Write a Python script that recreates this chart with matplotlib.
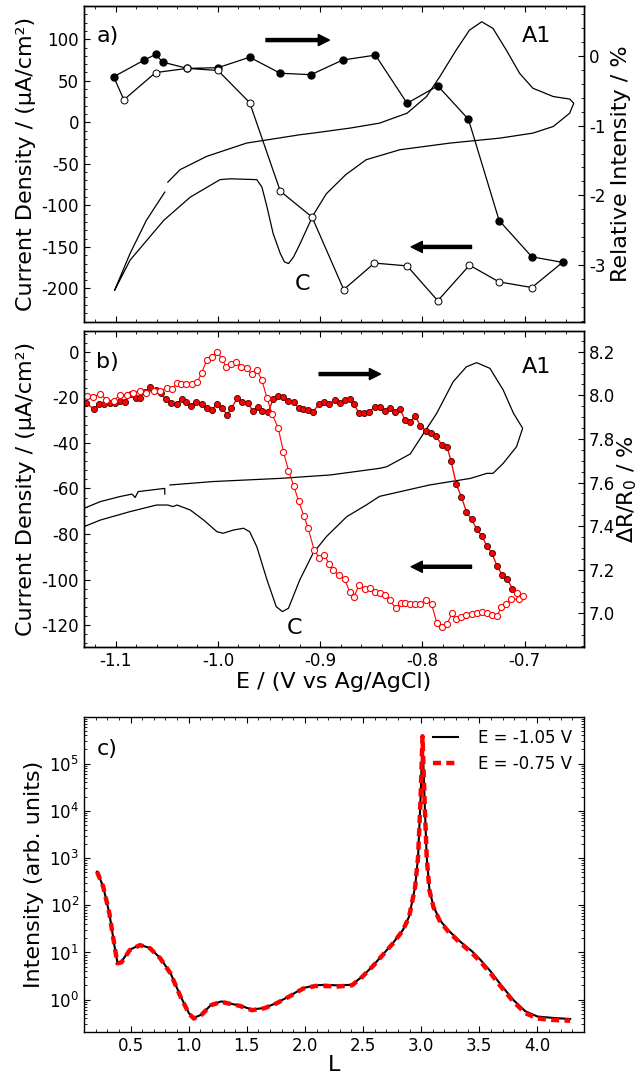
import numpy as np
import matplotlib
matplotlib.use("Agg")
from matplotlib import pyplot as plt
from matplotlib.ticker import MultipleLocator, LogLocator, NullFormatter, FormatStrFormatter

# ---- panel a : CV (left axis) ----
cv_a_E = [-1.101, -1.086, -1.070, -1.052, np.nan, -1.049, -1.037, -1.011, -0.972, -0.920,
          -0.907, -0.871, -0.842, -0.815, -0.796, -0.783, -0.767, -0.754, -0.742, -0.731,
          -0.718, -0.705, -0.692, -0.672, -0.656, -0.652, -0.656, -0.672, -0.692, -0.724,
          -0.773, -0.822, -0.855, -0.875, -0.894, -0.907, -0.920, -0.926, -0.931, -0.935,
          -0.939, -0.946, -0.952, -0.957, -0.962, -0.988, -0.998, -1.027, -1.053, -1.086,
          -1.101]
cv_a_J = [-202, -158, -118, -84, np.nan, -72, -57, -41, -25, -15,
          -13, -7, -1, 11, 31, 55, 87, 111, 121, 113,
          87, 59, 41, 31, 28, 23, 11, -5, -13, -19,
          -25, -33, -45, -63, -86, -112, -147, -162, -170, -168,
          -158, -134, -102, -78, -69, -68, -69, -90, -118, -166,
          -202]

# panel a : relative intensity (right axis)
fwd_a_E = [-1.102, -1.072, -1.061, -1.054, -1.030, -1.000, -0.969, -0.939, -0.909,
           -0.878, -0.846, -0.815, -0.785, -0.755, -0.725, -0.693, -0.663]
fwd_a_I = [-0.30, -0.06, 0.02, -0.09, -0.18, -0.17, -0.02, -0.25, -0.27,
           -0.06, 0.01, -0.68, -0.43, -0.91, -2.36, -2.88, -2.96]
ret_a_E = [-0.693, -0.725, -0.754, -0.785, -0.815, -0.847, -0.877, -0.908, -0.939,
           -0.969, -1.000, -1.030, -1.061, -1.092]
ret_a_I = [-3.32, -3.24, -3.00, -3.51, -3.01, -2.97, -3.35, -2.31, -1.94,
           -0.67, -0.21, -0.18, -0.24, -0.63]

# ---- panel b : CV (left axis) ----
cv_b_E = [-1.135, -1.115, -1.096, -1.084, -1.081, -1.078, -1.052, -1.052, np.nan, -1.047,
          -1.005, -0.939, -0.890, -0.842, -0.835, -0.812, -0.801, -0.786, -0.770, -0.757,
          -0.747, -0.734, -0.721, -0.711, -0.702, -0.708, -0.721, -0.731, -0.737, -0.753,
          -0.793, -0.842, -0.855, -0.874, -0.894, -0.907, -0.920, -0.931, -0.937, -0.943,
          -0.952, -0.962, -0.969, -0.975, -0.985, -0.995, -1.001, -1.014, -1.027, -1.040,
          -1.044, -1.049, -1.060, -1.086, -1.115, -1.135]
cv_b_J = [-69.5, -65.8, -63.6, -62.5, -64.0, -61.4, -60.0, -62.5, np.nan, -58.5,
          -57.0, -55.6, -54.1, -51.2, -50.5, -44.9, -37.3, -27.0, -13.2, -6.6,
          -4.8, -7.3, -16.8, -27.0, -33.6, -41.7, -49.0, -53.4, -53.4, -55.6,
          -58.5, -63.5, -67.3, -72.4, -81.2, -88.5, -100.2, -112.6, -114.1, -111.9,
          -100.2, -85.6, -79.0, -77.5, -78.3, -79.7, -79.0, -73.9, -69.5, -67.3,
          -68.0, -67.3, -67.3, -70.2, -73.9, -77.5]

# panel b : dR/R0 (right axis), forward scan (filled)
fwd_b_E = [-1.129, -1.121, -1.116, -1.111, -1.106, -1.101, -1.096, -1.091, -1.085, -1.080,
           -1.076, -1.071, -1.066, -1.061, -1.056, -1.051, -1.046, -1.040, -1.035, -1.031,
           -1.026, -1.021, -1.016, -1.011, -1.006, -1.001, -0.996, -0.991, -0.987, -0.981,
           -0.976, -0.971, -0.966, -0.961, -0.957, -0.951, -0.946, -0.941, -0.936, -0.931,
           -0.926, -0.921, -0.917, -0.912, -0.907, -0.901, -0.896, -0.891, -0.886, -0.881,
           -0.876, -0.871, -0.867, -0.862, -0.857, -0.852, -0.846, -0.842, -0.837, -0.832,
           -0.827, -0.822, -0.817, -0.812, -0.807, -0.802, -0.797, -0.792, -0.787, -0.781,
           -0.776, -0.772, -0.767, -0.762, -0.757, -0.752, -0.747, -0.742, -0.737, -0.732,
           -0.727, -0.722, -0.717, -0.712]
fwd_b_R = [7.963, 7.937, 7.959, 7.960, 7.967, 7.963, 7.974, 7.968, 8.006, 7.986,
           7.989, 8.017, 8.037, 8.025, 8.009, 7.982, 7.963, 7.960, 7.982, 7.968,
           7.953, 7.970, 7.959, 7.941, 7.933, 7.960, 7.944, 7.910, 7.941, 7.986,
           7.968, 7.967, 7.928, 7.945, 7.928, 7.922, 7.982, 7.997, 7.994, 7.974,
           7.971, 7.941, 7.936, 7.933, 7.925, 7.960, 7.971, 7.960, 7.979, 7.963,
           7.979, 7.983, 7.959, 7.918, 7.921, 7.925, 7.948, 7.948, 7.930, 7.941,
           7.925, 7.937, 7.887, 7.879, 7.905, 7.860, 7.838, 7.826, 7.813, 7.772,
           7.764, 7.699, 7.593, 7.535, 7.466, 7.431, 7.387, 7.355, 7.310, 7.275,
           7.217, 7.177, 7.156, 7.113]

# panel b : dR/R0, return scan (open)
ret_b_E = [-1.128, -1.122, -1.115, -1.109, -1.102, -1.096, -1.089, -1.083, -1.076, -1.070,
           -1.063, -1.057, -1.050, -1.045, -1.040, -1.036, -1.031, -1.025, -1.020, -1.016,
           -1.011, -1.006, -1.001, -0.996, -0.992, -0.987, -0.982, -0.977, -0.972, -0.967,
           -0.962, -0.957, -0.952, -0.947, -0.941, -0.936, -0.931, -0.926, -0.921, -0.916,
           -0.912, -0.906, -0.901, -0.896, -0.891, -0.887, -0.882, -0.876, -0.871, -0.867,
           -0.862, -0.856, -0.851, -0.846, -0.842, -0.837, -0.832, -0.826, -0.821, -0.817,
           -0.812, -0.807, -0.802, -0.797, -0.791, -0.786, -0.781, -0.776, -0.771, -0.767,
           -0.762, -0.757, -0.752, -0.747, -0.742, -0.737, -0.732, -0.727, -0.723, -0.718,
           -0.713, -0.706, -0.702, -0.708]
ret_b_R = [7.997, 7.994, 8.006, 7.979, 7.975, 8.002, 8.000, 8.012, 8.021, 8.012,
           8.020, 8.021, 8.032, 8.029, 8.055, 8.050, 8.050, 8.050, 8.063, 8.101,
           8.162, 8.177, 8.197, 8.167, 8.131, 8.142, 8.154, 8.131, 8.124, 8.096,
           8.116, 8.070, 7.986, 7.913, 7.849, 7.742, 7.655, 7.586, 7.514, 7.447,
           7.393, 7.292, 7.255, 7.268, 7.225, 7.199, 7.175, 7.157, 7.096, 7.075,
           7.130, 7.110, 7.118, 7.099, 7.092, 7.084, 7.061, 7.023, 7.046, 7.049,
           7.043, 7.043, 7.043, 7.061, 7.041, 6.957, 6.939, 6.951, 7.000, 6.974,
           6.985, 6.992, 6.997, 7.000, 7.005, 7.003, 6.992, 6.988, 7.027, 7.041,
           7.067, 7.064, 7.078, 7.093]

# ---- panel c : L scans ----
L_vals = [0.212, 0.265, 0.318, 0.363, 0.388, 0.423, 0.493, 0.581, 0.668, 0.756,
          0.844, 0.931, 1.002, 1.044, 1.107, 1.194, 1.282, 1.335, 1.440, 1.545,
          1.651, 1.756, 1.861, 1.984, 2.089, 2.177, 2.282, 2.405, 2.493, 2.580,
          2.668, 2.756, 2.843, 2.896, 2.948, 2.973, 2.994, 3.011, 3.029, 3.047,
          3.071, 3.106, 3.159, 3.229, 3.334, 3.439, 3.509, 3.597, 3.685, 3.790,
          3.895, 4.000, 4.141, 4.281]
I_105 = [514, 248, 67.8, 13.4, 5.96, 6.46, 11.4, 14.5, 12.4, 7.59,
         3.66, 1.17, 0.52, 0.41, 0.48, 0.78, 0.92, 0.85, 0.75, 0.62,
         0.67, 0.85, 1.17, 1.76, 2.01, 2.07, 2.01, 2.07, 3.11, 5.06,
         8.93, 15.7, 30.1, 57.7, 248, 1070, 16800, 380000, 16800, 1070,
         211, 93.8, 49.0, 30.1, 17.1, 10.5, 7.0, 3.97, 2.07, 1.0,
         0.57, 0.44, 0.41, 0.39]
I_075 = [514, 248, 67.8, 13.4, 5.9, 6.2, 11.2, 14.3, 12.3, 7.5,
         3.6, 1.15, 0.51, 0.40, 0.47, 0.77, 0.90, 0.84, 0.74, 0.60,
         0.66, 0.84, 1.15, 1.72, 1.95, 1.95, 1.90, 2.02, 3.05, 5.0,
         8.8, 15.5, 29.5, 57.0, 245, 1050, 16500, 380000, 16500, 1050,
         205, 90.0, 47.0, 28.5, 16.0, 9.6, 6.4, 3.6, 1.9, 0.93,
         0.52, 0.40, 0.37, 0.36]

plt.rcParams.update({
    "font.family": "DejaVu Sans",
    "axes.unicode_minus": False,
    "xtick.direction": "in",
    "ytick.direction": "in",
    "xtick.top": True,
    "xtick.major.size": 4,
    "ytick.major.size": 4,
    "xtick.minor.size": 2,
    "ytick.minor.size": 2,
    "xtick.labelsize": 12,
    "ytick.labelsize": 12,
    "axes.labelsize": 16,
    "axes.linewidth": 1.0,
})

W, H = 638, 1081
fig = plt.figure(figsize=(W / 100, H / 100), dpi=100)

def box(top, bottom):
    return [84 / W, 1 - bottom / H, 500 / W, (bottom - top) / H]

XLIM = (-1.131, -0.642)
arrow_kw = dict(facecolor="black", edgecolor="black", width=2.2, headwidth=8, headlength=8, shrink=0)

# ---------- panel a ----------
ax_a = fig.add_axes(box(6, 321.7))
ax_a.plot(cv_a_E, cv_a_J, color="k", lw=0.9)
ax_a.set_xlim(XLIM)
ax_a.set_ylim(-240, 140)
ax_a.xaxis.set_major_locator(MultipleLocator(0.1))
ax_a.xaxis.set_minor_locator(MultipleLocator(0.02))
ax_a.yaxis.set_major_locator(MultipleLocator(50))
ax_a.yaxis.set_minor_locator(MultipleLocator(10))
ax_a.tick_params(labelbottom=False, right=False, which="both")
ax_a.set_ylabel("Current Density / (μA/cm²)")
ax_a.annotate("", xy=(-0.891, 99), xytext=(-0.953, 99), arrowprops=arrow_kw)
ax_a.annotate("", xy=(-0.811, -150), xytext=(-0.752, -150), arrowprops=arrow_kw)
ax_a.text(0.025, 0.905, "a)", transform=ax_a.transAxes, fontsize=16, va="center")
ax_a.text(0.906, 0.905, "A1", transform=ax_a.transAxes, fontsize=16, va="center", ha="center")
ax_a.text(0.438, 0.121, "C", transform=ax_a.transAxes, fontsize=16, va="center", ha="center")

ax_a2 = ax_a.twinx()
ax_a2.set_ylim(-3.81, 0.714)
ax_a2.yaxis.set_major_locator(MultipleLocator(1))
ax_a2.yaxis.set_minor_locator(MultipleLocator(0.2))
ax_a2.tick_params(which="both", direction="in")
path_E = fwd_a_E + ret_a_E + [fwd_a_E[0]]
path_I = fwd_a_I + ret_a_I + [fwd_a_I[0]]
ax_a2.plot(path_E, path_I, color="k", lw=0.9)
ax_a2.plot(fwd_a_E, fwd_a_I, "o", color="k", ms=5, mec="k")
ax_a2.plot(ret_a_E, ret_a_I, "o", mfc="white", mec="k", ms=5, mew=0.7)
ax_a2.set_ylabel("Relative Intensity / %")

# ---------- panel b ----------
ax_b = fig.add_axes(box(331, 646.7))
ax_b.plot(cv_b_E, cv_b_J, color="k", lw=0.9)
ax_b.set_xlim(XLIM)
ax_b.set_ylim(-129.5, 9.1)
ax_b.xaxis.set_major_locator(MultipleLocator(0.1))
ax_b.xaxis.set_minor_locator(MultipleLocator(0.02))
ax_b.yaxis.set_major_locator(MultipleLocator(20))
ax_b.yaxis.set_minor_locator(MultipleLocator(4))
ax_b.tick_params(right=False, which="both")
ax_b.set_ylabel("Current Density / (μA/cm²)")
ax_b.set_xlabel("E / (V vs Ag/AgCl)", labelpad=2)
ax_b.annotate("", xy=(-0.841, -9.8), xytext=(-0.901, -9.8), arrowprops=arrow_kw)
ax_b.annotate("", xy=(-0.811, -94.4), xytext=(-0.752, -94.4), arrowprops=arrow_kw)
ax_b.text(0.025, 0.903, "b)", transform=ax_b.transAxes, fontsize=16, va="center")
ax_b.text(0.906, 0.887, "A1", transform=ax_b.transAxes, fontsize=16, va="center", ha="center")
ax_b.text(0.422, 0.058, "C", transform=ax_b.transAxes, fontsize=16, va="center", ha="center")

ax_b2 = ax_b.twinx()
ax_b2.set_ylim(6.847, 8.295)
ax_b2.yaxis.set_major_locator(MultipleLocator(0.2))
ax_b2.yaxis.set_minor_locator(MultipleLocator(0.05))
ax_b2.yaxis.set_major_formatter(FormatStrFormatter("%.1f"))
ax_b2.tick_params(which="both", direction="in")
ax_b2.plot(fwd_b_E, fwd_b_R, "-o", color="red", lw=1.0, ms=4.4, mfc="red", mec="#3a0000", mew=0.6)
ax_b2.plot(ret_b_E, ret_b_R, "-o", color="red", lw=0.8, ms=4.4, mfc="white", mec="red", mew=0.8)
ax_b2.set_ylabel("ΔR/R$_0$ / %", labelpad=0)

# ---------- panel c ----------
ax_c = fig.add_axes(box(717, 1032))
ax_c.semilogy(L_vals, I_105, color="k", lw=1.5, label="E = -1.05 V")
ax_c.semilogy(L_vals, I_075, color="red", lw=3.2, dashes=(1.8, 1.2), label="E = -0.75 V")
ax_c.set_xlim(0.1, 4.4)
ax_c.set_ylim(0.207, 9.7e5)
ax_c.xaxis.set_major_locator(MultipleLocator(0.5))
ax_c.xaxis.set_minor_locator(MultipleLocator(0.1))
ax_c.yaxis.set_major_locator(LogLocator(base=10, numticks=10))
ax_c.yaxis.set_minor_locator(LogLocator(base=10, subs=np.arange(2, 10), numticks=20))
ax_c.yaxis.set_minor_formatter(NullFormatter())
ax_c.tick_params(right=True, which="both")
ax_c.set_xlabel("L", labelpad=0)
ax_c.set_ylabel("Intensity (arb. units)")
ax_c.text(0.025, 0.9, "c)", transform=ax_c.transAxes, fontsize=16, va="center")
ax_c.legend(loc="upper right", frameon=False, fontsize=12, handlelength=1.5,
            handletextpad=1.2, borderaxespad=0.3)

fig.savefig("out.png", dpi=100)
